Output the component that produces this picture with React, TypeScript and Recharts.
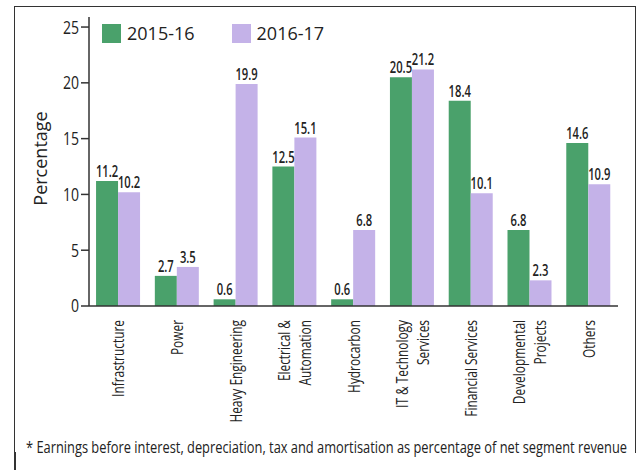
import { BarChart, Bar, XAxis, YAxis, LabelList, Legend } from 'recharts'

const categories = [
  'Infrastructure',
  'Power',
  'Heavy Engineering',
  'Electrical &\nAutomation',
  'Hydrocarbon',
  'IT & Technology\nServices',
  'Financial Services',
  'Developmental\nProjects',
  'Others',
]
const fy1516 = [11.2, 2.7, 0.6, 12.5, 0.6, 20.5, 18.4, 6.8, 14.6]
const fy1617 = [10.2, 3.5, 19.9, 15.1, 6.8, 21.2, 10.1, 2.3, 10.9]
const seriesNames = ['2015-16', '2016-17']
const yTicks = [0, 5, 10, 15, 20, 25]
const boundaryTicks = [0, 1, 2, 3, 4, 5, 6, 7, 8, 9]
const footnote =
  '* Earnings before interest, depreciation, tax and amortisation as percentage of net segment revenue'

const GREEN = '#4AA16B'
const PURPLE = '#C4B2E8'
const INK = '#222'
const SANS = '"Open Sans", "Noto Sans", sans-serif'

const data = categories.map((name, i) => ({ name, a: fy1516[i], b: fy1617[i] }))

// the source uses a condensed face, so squeeze Open Sans horizontally
function CategoryTick(props: any) {
  const { x, y, payload } = props
  const lines = String(payload.value).split('\n')
  const lh = 21
  return (
    <g>
      {lines.map((line, i) => {
        const bx = x + 6 + (i - (lines.length - 1) / 2) * lh
        const by = y + 14
        return (
          <text
            key={i}
            transform={`translate(${bx},${by}) rotate(-90) scale(0.7,1)`}
            textAnchor="end"
            fontFamily={SANS}
            fontSize={17}
            fill={INK}
          >
            {line}
          </text>
        )
      })}
    </g>
  )
}

function YTick(props: any) {
  const { x, y, payload } = props
  return (
    <text
      transform={`translate(${x},${y}) scale(0.78,1)`}
      textAnchor="end"
      dy="0.36em"
      fontFamily={SANS}
      fontSize={18}
      fill={INK}
    >
      {payload.value}
    </text>
  )
}

function ValueLabel(props: any) {
  const { x, y, width, value } = props
  const cx = Number(x) + Number(width) / 2
  const cy = Number(y) - 4
  return (
    <text
      transform={`translate(${cx},${cy}) scale(0.68,1)`}
      textAnchor="middle"
      fontFamily={SANS}
      fontSize={16.5}
      fontWeight={600}
      fill={INK}
    >
      {value}
    </text>
  )
}

function LegendContent(props: any) {
  const items = props.payload || []
  return (
    <div style={{ display: 'flex', fontFamily: SANS, fontSize: 18, color: INK, lineHeight: '19px' }}>
      {items.map((p: any) => (
        <div key={p.value} style={{ display: 'flex', alignItems: 'center', marginRight: 37 }}>
          <span style={{ display: 'inline-block', width: 19, height: 19, background: p.color, marginRight: 6 }} />
          <span>{p.value}</span>
        </div>
      ))}
    </div>
  )
}

export default function App() {
  return (
    <div style={{ position: 'absolute', left: 0, top: 0, width: 640, height: 470, overflow: 'hidden', background: '#fff' }}>
      <div
        style={{
          position: 'absolute',
          left: 14,
          top: 6,
          width: 622,
          height: 447,
          borderTop: '1.5px solid #333',
          borderLeft: '1.5px solid #333',
          borderRight: '1.5px solid #333',
          boxSizing: 'border-box',
        }}
      />
      <div style={{ position: 'absolute', left: 14, top: 452, width: 1.5, height: 30, background: '#333' }} />
      <BarChart
        width={640}
        height={470}
        data={data}
        margin={{ top: 17, right: 22, left: 29, bottom: 44 }}
        barCategoryGap="12%"
        barGap={0}
      >
        <XAxis
          xAxisId="grid"
          type="number"
          domain={[0, 9]}
          allowDataOverflow
          ticks={boundaryTicks}
          tick={false}
          tickSize={10}
          tickLine={{ stroke: '#333', strokeWidth: 1.5 }}
          axisLine={false}
          height={0}
        />
        <XAxis
          xAxisId="cat"
          dataKey="name"
          interval={0}
          tickLine={false}
          tickSize={0}
          tickMargin={0}
          height={120}
          tick={<CategoryTick />}
          axisLine={{ stroke: '#333', strokeWidth: 1.5 }}
        />
        <YAxis
          domain={[0, 25.9]}
          allowDataOverflow
          ticks={yTicks}
          width={60}
          tickSize={8}
          tickLine={{ stroke: '#333', strokeWidth: 1.5 }}
          axisLine={{ stroke: '#333', strokeWidth: 1.5 }}
          tick={<YTick />}
          label={{
            content: (p: any) => {
              const vb = p.viewBox || { x: 29, y: 17, height: 289 }
              const lx = vb.x + 18
              const ly = vb.y + vb.height / 2 - 3
              return (
                <text
                  x={lx}
                  y={ly}
                  transform={`rotate(-90 ${lx} ${ly})`}
                  textAnchor="middle"
                  fontFamily={SANS}
                  fontSize={18}
                  fill={INK}
                >
                  Percentage
                </text>
              )
            },
          }}
        />
        <Legend
          layout="horizontal"
          verticalAlign="middle"
          align="center"
          wrapperStyle={{ top: 24, left: 102, width: 'auto', height: 'auto' }}
          content={<LegendContent />}
        />
        <Bar xAxisId="cat" dataKey="a" name={seriesNames[0]} fill={GREEN} isAnimationActive={false}>
          <LabelList dataKey="a" content={<ValueLabel />} />
        </Bar>
        <Bar xAxisId="cat" dataKey="b" name={seriesNames[1]} fill={PURPLE} isAnimationActive={false}>
          <LabelList dataKey="b" content={<ValueLabel />} />
        </Bar>
      </BarChart>
      <svg width={640} height={470} style={{ position: 'absolute', left: 0, top: 0, pointerEvents: 'none' }}>
        <text
          x={26}
          y={453}
          textLength={601}
          lengthAdjust="spacingAndGlyphs"
          fontFamily={SANS}
          fontSize={16.5}
          fill={INK}
        >
          {footnote}
        </text>
      </svg>
    </div>
  )
}
